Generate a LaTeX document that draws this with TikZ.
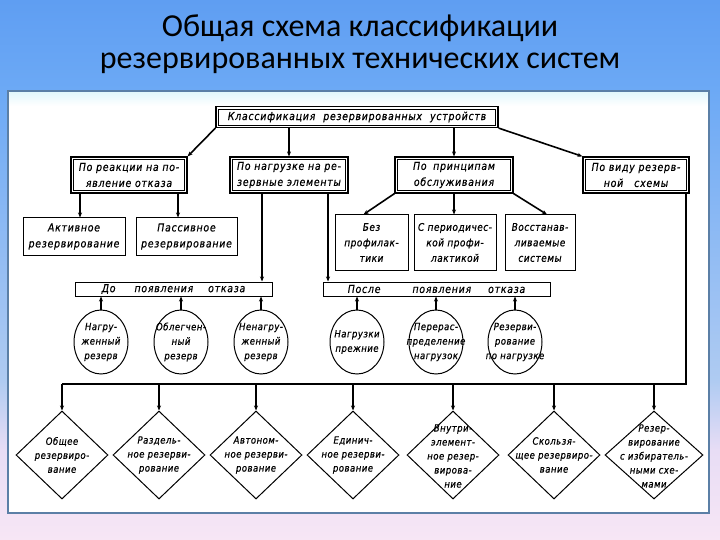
\documentclass[tikz,border=0pt]{standalone}
\usepackage{fontspec}
\setmainfont{Carlito}
\newfontfamily\dfont[FakeStretch=0.85,LetterSpace=5,FakeBold=0.6]{DejaVu Sans}
\newfontfamily\bfontfam[FakeStretch=0.85,LetterSpace=7,FakeBold=0.6]{DejaVu Sans}
\usetikzlibrary{shapes.geometric,arrows.meta,calc}
\definecolor{bgblue}{HTML}{5F9EF2}
\definecolor{bgblue2}{HTML}{6CA9F5}
\definecolor{bgmid}{HTML}{AFCBF2}
\definecolor{bglil}{HTML}{E8DDF5}
\definecolor{bgpink}{HTML}{F7E6F5}
\definecolor{panelborder}{HTML}{5B7FA6}
\definecolor{panelcyan}{HTML}{E4F8FC}
\pgfdeclareverticalshading{slidebg}{100bp}{color(0bp)=(bgpink); color(25bp)=(bgpink); color(33.3bp)=(bglil); color(39.8bp)=(bgmid); color(66.7bp)=(bgblue2); color(75bp)=(bgblue); color(100bp)=(bgblue)}
\newcommand{\btxt}{\bfontfam\itshape\fontsize{11}{16}\selectfont}
\newcommand{\dtxt}{\dfont\itshape\fontsize{10.5}{15.5}\selectfont}
\newcommand{\ctxt}{\dfont\itshape\fontsize{10}{14.5}\selectfont}
\newcommand{\qtxt}{\dfont\itshape\fontsize{10}{14}\selectfont}
\tikzset{
  conn/.style={line width=1.6pt, line join=miter},
  arr/.style={conn, -{Stealth[length=5pt,width=4pt]}},
  sbox/.style={draw, line width=1pt, inner sep=1pt, align=center, font=\dtxt},
  bbox/.style={sbox, font=\btxt},
  dbox/.style={sbox, font=\btxt, line width=1.2pt},
  innerline/.style={line width=0.6pt},
  circ/.style={ellipse, draw, line width=1pt, minimum width=54pt, minimum height=64pt, inner sep=0pt},
  dia/.style={diamond, draw, line width=1pt, minimum width=92pt, minimum height=88pt, inner sep=0pt},
  intext/.style={align=center, font=\ctxt, inner sep=0pt},
  dtext/.style={align=center, font=\qtxt, inner sep=0pt},
}
\begin{document}
\begin{tikzpicture}[x=1pt,y=-1pt]
\useasboundingbox (0,0) rectangle (720,540);
\shade[shading=slidebg] (0,0) rectangle (720,540);
% title
\node[font=\fontsize{32}{36}\selectfont, text=black] (title1) at (360,28) {Общая схема классификации};
\node[font=\fontsize{32}{36}\selectfont, text=black] (title2) at (360,63) {резервированных технических систем};
% panel
\draw[draw=panelborder, line width=2.5pt, fill=white] (8,91) rectangle (709,513);
\shade[top color=panelcyan, bottom color=white] (9.5,92.5) rectangle (707.5,106);
% top
\node[dbox, minimum width=282pt, minimum height=21pt] (top) at (357,117) {Классификация\hspace{8pt}резервированных\hspace{8pt}устройств};
% level 2
\node[dbox, minimum width=116pt, minimum height=36pt] (b1) at (129,175) {По реакции на по-\\явление отказа};
\node[dbox, minimum width=118pt, minimum height=36pt] (b2) at (289,175) {По нагрузке на ре-\\зервные элементы};
\node[dbox, minimum width=118pt, minimum height=36pt] (b3) at (454,175) {По\hspace{0.6em}принципам\\обслуживания};
\node[dbox, minimum width=106pt, minimum height=36pt] (b4) at (636,175) {По виду резерв-\\ной\hspace{1em}схемы};
\foreach \b in {top,b1,b2,b3,b4}{
  \draw[innerline] ([shift={(3pt,3pt)}]\b.south west) rectangle ([shift={(-3pt,-3pt)}]\b.north east);}
% level 3
\node[bbox, minimum width=102pt, minimum height=37pt] (a1) at (74,236.5) {Активное\\резервирование};
\node[bbox, minimum width=101pt, minimum height=37pt] (a2) at (186.5,236.5) {Пассивное\\резервирование};
\node[sbox, minimum width=73pt, minimum height=55pt] (c1) at (371.5,242.5) {Без\\профилак-\\тики};
\node[sbox, minimum width=82pt, minimum height=55pt] (c2) at (455,242.5) {С периодичес-\\кой профи-\\лактикой};
\node[sbox, minimum width=70pt, minimum height=55pt] (c3) at (540,242.5) {Восстанав-\\ливаемые\\системы};
% bars
\node[bbox, minimum width=197pt, minimum height=14pt] (bar1) at (173.5,289) {До\hspace{19pt}появления\hspace{15pt}отказа};
\node[bbox, minimum width=227pt, minimum height=14pt] (bar2) at (436.5,289) {После\hspace{32pt}появления\hspace{17pt}отказа};
% circles
\node[circ] (k1) at (101,342) {};
\node[circ] (k2) at (181,342) {};
\node[circ] (k3) at (261,342) {};
\node[circ] (k4) at (357,342) {};
\node[circ] (k5) at (436,342) {};
\node[circ] (k6) at (515,342) {};
\node[intext] (tk1) at (k1) {Нагру-\\женный\\резерв};
\node[intext] (tk2) at (k2) {Облегчен-\\ный\\резерв};
\node[intext] (tk3) at (k3) {Ненагру-\\женный\\резерв};
\node[intext] (tk4) at (k4) {Нагрузки\\прежние};
\node[intext] (tk5) at (k5) {Перерас-\\пределение\\нагрузок};
\node[intext] (tk6) at (k6) {Резерви-\\рование\\по нагрузке};
% diamonds
\node[dia] (d1) at (62,455) {};
\node[dia] (d2) at (159,455) {};
\node[dia] (d3) at (256,455) {};
\node[dia] (d4) at (353,455) {};
\node[dia] (d5) at (453,455) {};
\node[dia] (d6) at (554,455) {};
\node[dia, minimum width=98pt] (d7) at (654,455) {};
\node[dtext] (td1) at (d1) {Общее\\резервиро-\\вание};
\node[dtext] (td2) at (d2) {Раздель-\\ное резерви-\\рование};
\node[dtext] (td3) at (d3) {Автоном-\\ное резерви-\\рование};
\node[dtext] (td4) at (d4) {Единич-\\ное резерви-\\рование};
\node[dtext] (td5) at (453,456) {Внутри-\\элемент-\\ное резер-\\вирова-\\ние};
\node[dtext] (td6) at (d6) {Скользя-\\щее резервиро-\\вание};
\node[dtext] (td7) at (654,456) {Резер-\\вирование\\с избиратель-\\ными схе-\\мами};
% connectors top -> level 2
\draw[arr] (top.south west) -- (b1.north east);
\draw[arr] (top.south -| b2.north) -- (b2.north);
\draw[arr] (top.south -| b3.north) -- (b3.north);
\draw[arr] (top.south east) -- (b4.north west);
% b1 -> a1, a2
\draw[arr] ([xshift=-49pt]b1.south) -- ([xshift=-49pt]b1.south |- a1.north);
\draw[arr] ([xshift=49pt]b1.south) -- ([xshift=49pt]b1.south |- a2.north);
% b2 -> bars
\draw[arr] ([xshift=-27pt]b2.south) -- ([xshift=-27pt]b2.south |- bar1.north);
\draw[arr] ([xshift=39pt]b2.south) -- ([xshift=39pt]b2.south |- bar2.north);
% b3 -> c
\draw[arr] (b3.south west) -- ([xshift=-8pt]c1.north);
\draw[arr] (b3.south) -- (b3.south |- c2.north);
\draw[arr] (b3.south east) -- ([xshift=7pt]c3.north);
% circles -> bars
\foreach \k in {k1,k2,k3}{\draw[arr] (\k.north) -- (\k.north |- bar1.south);}
\foreach \k in {k4,k5,k6}{\draw[arr] (\k.north) -- (\k.north |- bar2.south);}
% bus
\coordinate (busR) at (686,384);
\coordinate (busL) at (62,384);
\draw[conn] (b4.south -| busR) -- (busR) -- (busL);
\draw[arr] (busL) -- (d1.north);
\foreach \d in {d2,d3,d4,d5,d6,d7}{\draw[arr] (busL -| \d.north) -- (\d.north);}
\end{tikzpicture}
\end{document}
